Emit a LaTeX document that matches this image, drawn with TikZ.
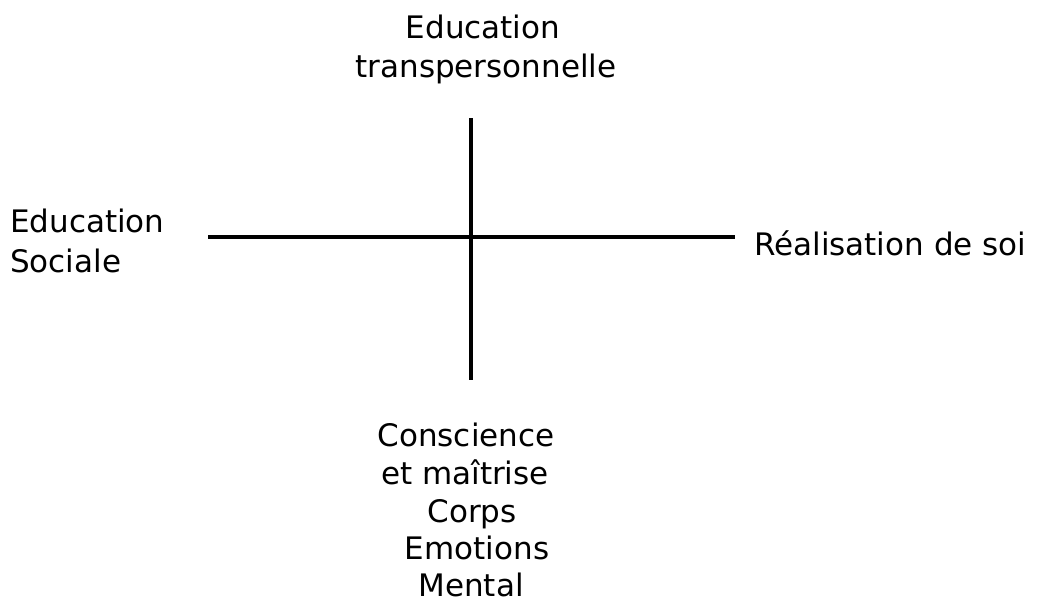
\documentclass[tikz,border=0pt]{standalone}
\usepackage{fontspec}
\setmainfont{DejaVu Sans}
\begin{document}
\begin{tikzpicture}[x=1pt, y=-1pt, font=\fontsize{31}{38}\selectfont,
    axis/.style={line width=4pt},
    lbl/.style={inner sep=0pt, anchor=base}]
    \useasboundingbox (0,0) rectangle (1039,603);
    % Ends of the two axes
    \coordinate (west) at (208,237);
    \coordinate (east) at (735,237);
    \coordinate (north) at (471,118);
    \coordinate (south) at (471,380);
    \draw[axis] (west) -- (east);
    \draw[axis] (north) -- (south);
    % Top label
    \node[lbl] (top1) at (483,38) {Education};
    \node[lbl] (top2) at (486,77) {transpersonnelle};
    % Left and right labels
    \node[lbl, anchor=base west] (left1) at (10,232) {Education};
    \node[lbl, anchor=base west] (left2) at (10,272) {Sociale};
    \node[lbl, anchor=base west] (right) at (754,255) {Réalisation de soi};
    % Bottom label, one line each
    \node[lbl] (bot1) at (466,446) {Conscience};
    \node[lbl] (bot2) at (465,484) {et maîtrise};
    \node[lbl] (bot3) at (472,522) {Corps};
    \node[lbl] (bot4) at (477,559) {Emotions};
    \node[lbl] (bot5) at (471,596) {Mental};
\end{tikzpicture}
\end{document}
